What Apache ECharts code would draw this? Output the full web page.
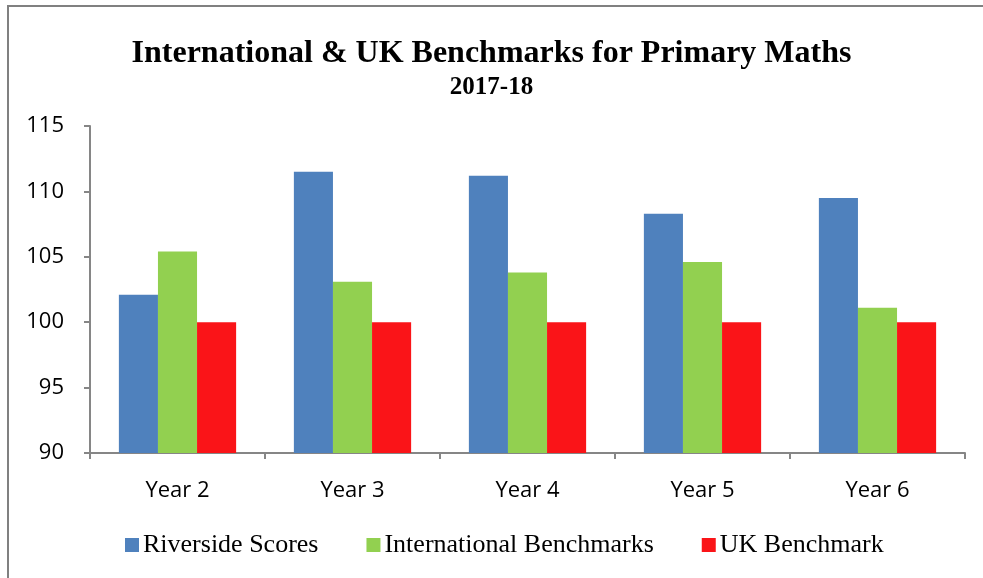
<!DOCTYPE html>
<html>
<head>
<meta charset="utf-8">
<script src="https://cdn.jsdelivr.net/npm/echarts@6/dist/echarts.min.js"></script>
<style>
  html, body { margin: 0; padding: 0; background: #fff; }
  #chart { width: 983px; height: 578px; }
</style>
</head>
<body>
<div id="chart"></div>
<script>
var years = ["Year 2", "Year 3", "Year 4", "Year 5", "Year 6"];
var riverside = [102.1, 111.5, 111.2, 108.3, 109.5];
var international = [105.4, 103.1, 103.8, 104.6, 101.1];
var ukBenchmark = [100, 100, 100, 100, 100];

var myChart = echarts.init(document.getElementById("chart"));
var axisColor = "#868686";

var option = {
    animation: false,
    backgroundColor: "#fff",
    title: [
        {
            text: "International & UK Benchmarks for Primary Maths",
            left: "center",
            top: 33,
            textStyle: {
                fontFamily: "Liberation Serif",
                fontWeight: "bold",
                fontSize: 32,
                color: "#000",
            },
        },
        {
            text: "2017-18",
            left: "center",
            top: 70,
            textStyle: {
                fontFamily: "Liberation Serif",
                fontWeight: "bold",
                fontSize: 25,
                color: "#000",
            },
        },
    ],
    graphic: [
        {
            type: "polyline",
            shape: { points: [[8, 578], [8, 6], [983, 6]] },
            style: { stroke: "#808080", lineWidth: 2, fill: null },
            silent: true,
        },
    ],
    legend: {
        bottom: 15,
        left: 120,
        itemWidth: 14,
        itemHeight: 14,
        itemGap: 48,
        icon: "rect",
        textStyle: {
            fontFamily: "Liberation Serif",
            fontSize: 26,
            color: "#000",
            padding: [0, 0, 0, -1],
        },
    },
    grid: {
        left: 90,
        right: 18,
        top: 126,
        bottom: 125,
    },
    xAxis: {
        type: "category",
        data: years,
        axisLine: { lineStyle: { color: axisColor, width: 2 } },
        axisTick: { show: true, length: 6, lineStyle: { color: axisColor, width: 2 } },
        axisLabel: {
            fontFamily: "Open Sans",
            fontSize: 22,
            color: "#000",
            margin: 27,
        },
    },
    yAxis: {
        type: "value",
        min: 90,
        max: 115,
        interval: 5,
        splitLine: { show: false },
        axisLine: { show: true, lineStyle: { color: axisColor, width: 2 } },
        axisTick: { show: true, length: 6, lineStyle: { color: axisColor, width: 2 } },
        axisLabel: {
            fontFamily: "Open Sans",
            fontSize: 22,
            color: "#000",
            margin: 26,
        },
    },
    series: [
        {
            name: "Riverside Scores",
            type: "bar",
            data: riverside,
            barGap: "0%",
            barCategoryGap: "33%",
            itemStyle: { color: "#4f81bd" },
        },
        {
            name: "International Benchmarks",
            type: "bar",
            data: international,
            itemStyle: { color: "#92d050" },
        },
        {
            name: "UK Benchmark",
            type: "bar",
            data: ukBenchmark,
            itemStyle: { color: "#fa1418" },
        },
    ],
};

myChart.setOption(option);
</script>
</body>
</html>
